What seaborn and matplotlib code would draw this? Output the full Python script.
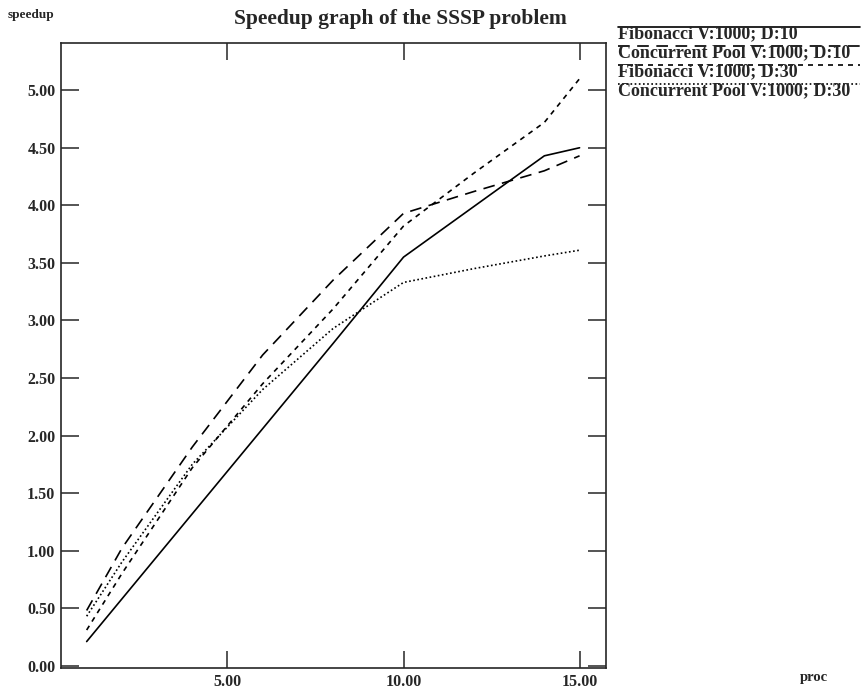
import pandas as pd
import matplotlib.pyplot as plt
import seaborn as sns

# values
procs = [1, 2, 4, 6, 8, 10, 12, 14, 15]
fib_d10 = [0.21, 0.58, 1.32, 2.06, 2.80, 3.55, 3.99, 4.43, 4.50]
pool_d10 = [0.48, 1.02, 1.90, 2.70, 3.35, 3.93, 4.12, 4.30, 4.43]
fib_d30 = [0.31, 0.80, 1.72, 2.45, 3.10, 3.82, 4.28, 4.72, 5.10]
pool_d30 = [0.43, 0.90, 1.75, 2.40, 2.93, 3.33, 3.45, 3.56, 3.61]
names = ["Fibonacci V:1000; D:10", "Concurrent Pool V:1000; D:10",
         "Fibonacci V:1000; D:30", "Concurrent Pool V:1000; D:30"]
x_ticks = [5, 10, 15]
y_ticks = [0, 0.5, 1, 1.5, 2, 2.5, 3, 3.5, 4, 4.5, 5]

rows = []
for name, vals in zip(names, [fib_d10, pool_d10, fib_d30, pool_d30]):
    for p, v in zip(procs, vals):
        rows.append({"proc": p, "speedup": v, "run": name})
df = pd.DataFrame(rows)

sns.set_style("ticks")
plt.rcParams["font.family"] = ["Liberation Serif", "DejaVu Serif"]
plt.rcParams["font.weight"] = "bold"

fig = plt.figure(figsize=(8.61, 6.96), dpi=100)
ax = fig.add_axes([0.0708, 0.0402, 0.633, 0.898])

dashes = {names[0]: "", names[1]: (7, 4.5), names[2]: (3, 3), names[3]: (1, 1.5)}
sns.lineplot(data=df, x="proc", y="speedup", hue="run", style="run",
             palette=["black"] * 4, dashes=dashes, linewidth=1.2, ax=ax)

ax.set_xlim(0.27, 15.75)
ax.set_ylim(-0.02, 5.41)
ax.set_xticks(x_ticks)
ax.set_xticklabels([f"{t:.2f}" for t in x_ticks])
ax.set_yticks(y_ticks)
ax.set_yticklabels([f"{t:.2f}" for t in y_ticks])
ax.tick_params(direction="in", length=13, width=1.1, labelsize=11.5,
               top=True, right=True, pad=4)
ax.tick_params(axis="x", length=12)
for lab in ax.get_xticklabels() + ax.get_yticklabels():
    lab.set_fontweight("bold")
for s in ax.spines.values():
    s.set_linewidth(1.2)
ax.set_xlabel("")
ax.set_ylabel("")

fig.text(0.465, 0.973, "Speedup graph of the SSSP problem", ha="center",
         va="center", fontsize=15.5, fontweight="bold")
fig.text(0.009, 0.979, "speedup", ha="left", va="center", fontsize=9.5,
         fontweight="bold")
fig.text(0.929, 0.026, "proc", ha="left", va="center", fontsize=10.5,
         fontweight="bold")

# legend lines run along the top of each label, as in the scan
leg = ax.legend(loc="upper left", bbox_to_anchor=(1.009, 1.048), frameon=False,
                handlelength=13.4, handletextpad=-13.4, labelspacing=0.12,
                borderaxespad=0, prop={"size": 13, "weight": "bold"})
for t in leg.get_texts():
    t.set_va("center")

fig.savefig("out.png", dpi=100)
